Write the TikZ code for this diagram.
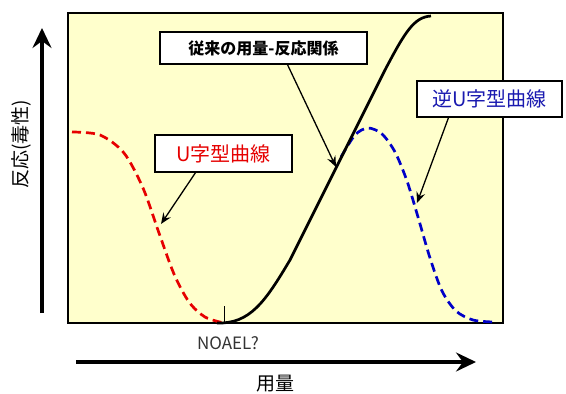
\documentclass[tikz,border=0pt]{standalone}
\usepackage{fontspec}
\usepackage{tikz}
\usepackage{xcolor}
\usetikzlibrary{arrows.meta, positioning, calc}
\setmainfont{Noto Sans CJK JP}
\definecolor{plotbg}{RGB}{255,255,204}
\definecolor{ured}{RGB}{230,0,0}
\definecolor{iublue}{RGB}{0,0,200}
\definecolor{iutext}{RGB}{26,26,176}

\begin{document}
\begin{tikzpicture}[x=1pt,y=-1pt,
    labelbox/.style={draw=black, line width=1.3pt, fill=white, inner sep=2pt},
    pointer/.style={line width=1.3pt, -{Stealth[length=11pt,width=9pt,inset=4pt]}},
    axisarrow/.style={line width=3.8pt, -{Stealth[length=20pt,width=19pt,inset=7pt]}},
    dashcurve/.style={line width=2.7pt, dash pattern=on 9pt off 5pt}]
\useasboundingbox (0,0) rectangle (566,394);
% plot area
\draw[fill=plotbg, line width=1.2pt] (68,13) rectangle (503,323);
% axes
\coordinate (yfoot) at (42,313);
\coordinate (ytop) at (42,28);
\coordinate (xfoot) at (76,362);
\coordinate (xtip) at (476,362);
\draw[axisarrow] (yfoot) -- (ytop);
\draw[axisarrow] (xfoot) -- (xtip);
\node[rotate=90, font=\fontsize{19}{19}\selectfont] (ylab) at (21,144) {反応(毒性)};
\node[font=\fontsize{19}{19}\selectfont] (xlab) at (275,384) {用量};
\node[font=\fontsize{17}{17}\selectfont, text=black!80] (noael) at (228,343) {NOAEL?};
% U shaped curve (red)
\draw[ured, dashcurve] plot[smooth] coordinates {(72,132) (100,135) (124,153) (143,188) (159,233) (174,274) (189,302) (205,317) (224,323)};
% inverted U shaped curve (blue)
\draw[iublue, dashcurve] plot[smooth] coordinates {(341,157) (355,135) (368,128) (382,134) (395,152) (407,181) (418,217) (430,258) (442,291) (456,311) (473,320) (493,322)};
% conventional dose-response (black)
\draw[line width=2.7pt] (217,323) .. controls (250,324) and (265,302) .. (290,260)
    -- (385,70) .. controls (405,32) and (414,17) .. (431,16);
% NOAEL tick
\draw[line width=1.6pt] (224.5,306) -- (224.5,323);
% labels
\node[labelbox, minimum width=207pt, minimum height=32pt, font=\bfseries\fontsize{16}{16}\selectfont] (conv) at (263.5,48) {従来の用量-反応関係};
\node[labelbox, minimum width=137pt, minimum height=37pt, text=ured, font=\fontsize{20}{20}\selectfont] (ushape) at (223.5,153.5) {U字型曲線};
\node[labelbox, minimum width=145pt, minimum height=36pt, text=iutext, font=\fontsize{20}{20}\selectfont] (invu) at (489.5,99) {逆U字型曲線};
% pointers
\coordinate (convtip) at (336,167);
\coordinate (utip) at (161,224);
\coordinate (invutip) at (417,203);
\draw[pointer] ([xshift=24pt]conv.south) -- (convtip);
\draw[pointer] ([xshift=-28pt]ushape.south) -- (utip);
\draw[pointer] ([xshift=-41pt]invu.south) -- (invutip);
\end{tikzpicture}
\end{document}
